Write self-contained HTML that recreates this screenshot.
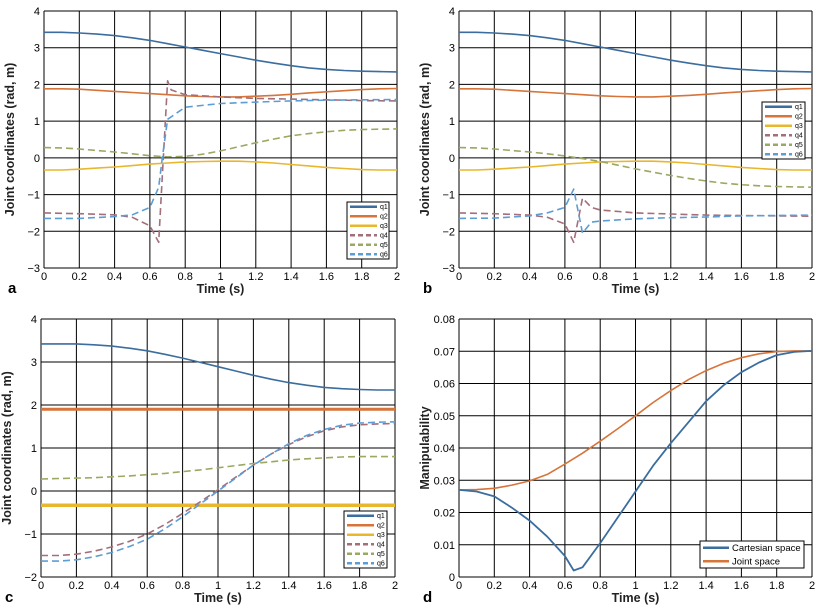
<!DOCTYPE html>
<html><head><meta charset="utf-8"><style>
body{margin:0;background:#fff;width:818px;height:606px;overflow:hidden}
svg text{font-family:"Liberation Sans",sans-serif}
</style></head><body>
<svg id="fig" width="818" height="606" xmlns="http://www.w3.org/2000/svg"></svg>
<script>
// ---- data ----
const tGrid = [0,0.1,0.2,0.3,0.4,0.5,0.6,0.7,0.8,0.9,1,1.1,1.2,1.3,1.4,1.5,1.6,1.7,1.8,1.9,2];
const q1 = [3.42,3.42,3.40,3.37,3.33,3.27,3.20,3.11,3.02,2.93,2.84,2.75,2.66,2.58,2.51,2.45,2.41,2.38,2.36,2.35,2.34];
const q2 = [1.88,1.88,1.87,1.84,1.81,1.78,1.75,1.72,1.69,1.67,1.66,1.66,1.68,1.70,1.73,1.77,1.80,1.83,1.86,1.88,1.89];
const q3 = [-0.33,-0.33,-0.31,-0.28,-0.25,-0.21,-0.17,-0.14,-0.11,-0.10,-0.09,-0.09,-0.11,-0.14,-0.18,-0.22,-0.26,-0.29,-0.32,-0.33,-0.33];
const q5a = [0.28,0.27,0.24,0.20,0.16,0.11,0.06,0.03,0.04,0.10,0.19,0.30,0.41,0.51,0.60,0.66,0.71,0.75,0.77,0.78,0.79];
const tq4a = [0,0.2,0.4,0.5,0.6,0.65,0.67,0.7,0.72,0.8,1.0,1.2,1.4,1.6,1.8,2];
const q4a = [-1.5,-1.52,-1.55,-1.62,-1.85,-2.3,-0.5,2.1,1.85,1.72,1.66,1.62,1.60,1.58,1.56,1.55];
const tq6a = [0,0.2,0.4,0.5,0.6,0.65,0.67,0.7,0.8,1.0,1.2,1.4,1.6,1.8,2];
const q6a = [-1.65,-1.65,-1.6,-1.55,-1.35,-0.8,0,1.05,1.38,1.48,1.52,1.55,1.57,1.58,1.59];
const q5b = [0.28,0.27,0.24,0.20,0.16,0.11,0.05,-0.02,-0.1,-0.2,-0.3,-0.39,-0.48,-0.56,-0.63,-0.69,-0.73,-0.76,-0.78,-0.79,-0.8];
const tq4b = [0,0.2,0.4,0.5,0.6,0.65,0.7,0.75,0.8,1,1.2,1.4,1.6,1.8,2];
const q4b = [-1.5,-1.52,-1.56,-1.62,-1.8,-2.3,-1.1,-1.35,-1.42,-1.5,-1.53,-1.56,-1.57,-1.58,-1.59];
const tq6b = [0,0.2,0.4,0.5,0.6,0.65,0.7,0.75,0.8,1,1.2,1.4,1.6,1.8,2];
const q6b = [-1.65,-1.64,-1.58,-1.5,-1.35,-0.85,-2.05,-1.75,-1.72,-1.66,-1.63,-1.61,-1.58,-1.57,-1.56];
const q1c = [3.42,3.42,3.42,3.40,3.37,3.32,3.26,3.18,3.09,2.99,2.89,2.79,2.69,2.60,2.52,2.46,2.41,2.38,2.36,2.35,2.35];
const q2c = [1.9,1.9];
const q3c = [-0.33,-0.33];
const tEnds = [0,2];
const q4c = [-1.5,-1.5,-1.47,-1.40,-1.30,-1.17,-1.0,-0.78,-0.52,-0.25,0.03,0.32,0.60,0.86,1.08,1.26,1.40,1.49,1.54,1.56,1.57];
const q5c = [0.28,0.29,0.30,0.31,0.33,0.35,0.38,0.41,0.45,0.49,0.54,0.59,0.64,0.68,0.72,0.75,0.77,0.79,0.80,0.80,0.80];
const q6c = [-1.63,-1.63,-1.6,-1.53,-1.43,-1.29,-1.12,-0.88,-0.6,-0.3,0.0,0.3,0.6,0.86,1.1,1.29,1.43,1.53,1.58,1.6,1.61];
const jointSpace = [0.027,0.0271,0.0275,0.0285,0.0298,0.0318,0.035,0.0384,0.0421,0.046,0.050,0.0541,0.0578,0.0612,0.064,0.0663,0.068,0.0692,0.0699,0.0701,0.0701];
const tCart = [0,0.1,0.2,0.3,0.4,0.5,0.6,0.65,0.7,0.8,0.9,1,1.1,1.2,1.3,1.4,1.5,1.6,1.7,1.8,1.9,2];
const cartSpace = [0.027,0.0265,0.025,0.0215,0.0175,0.0125,0.0065,0.002,0.003,0.0105,0.0185,0.0265,0.0345,0.0415,0.048,0.0545,0.0595,0.0635,0.0665,0.0688,0.0698,0.0701];
const xTicks = [0,0.2,0.4,0.6,0.8,1,1.2,1.4,1.6,1.8,2];
const xTickLabels = ["0","0.2","0.4","0.6","0.8","1","1.2","1.4","1.6","1.8","2"];
const yTicksAB = [-3,-2,-1,0,1,2,3,4];
const yTicksC = [-2,-1,0,1,2,3,4];
const yTicksD = [0,0.01,0.02,0.03,0.04,0.05,0.06,0.07,0.08];
const yLabelsD = ["0","0.01","0.02","0.03","0.04","0.05","0.06","0.07","0.08"];
const qNames = ["q1","q2","q3","q4","q5","q6"];

const C = {q1:"#3b6d9f",q2:"#d6743a",q3:"#e9b72e",q4:"#a26f7b",q5:"#9aa862",q6:"#5d9dd5"};
const NS="http://www.w3.org/2000/svg";
const svg=document.getElementById('fig');
function mk(tag,attrs,parent){const e=document.createElementNS(NS,tag);for(const k in attrs)e.setAttribute(k,attrs[k]);(parent||svg).appendChild(e);return e;}

function panel(id,L,R,T,B,ymin,ymax,yTicks,yLabels,yTitle,letter){
  const g=mk('g',{});
  
  
  const sx=v=>L+(v-0)/2*(R-L);
  const sy=v=>B-(v-ymin)/(ymax-ymin)*(B-T);
  xTicks.forEach((v,i)=>{
    const l=mk('line',{x1:sx(v),x2:sx(v),y1:T,y2:B,stroke:'#000','stroke-width':1},g);
    
    
    const t=mk('text',{x:sx(v),y:B+12,'font-size':11,'text-anchor':'middle'},g);
    t.textContent=xTickLabels[i];
    
    
  });
  yTicks.forEach((v,i)=>{
    const l=mk('line',{x1:L,x2:R,y1:sy(v),y2:sy(v),stroke:'#000','stroke-width':1},g);
    
    
    const t=mk('text',{x:L-4,y:sy(v)+4,'font-size':11,'text-anchor':'end'},g);
    t.textContent=yLabels[i];
    
    
  });
  const xt=mk('text',{x:(L+R)/2,y:B+25,'font-size':12.5,'font-weight':'bold','text-anchor':'middle','fill':'#222'},g);
  xt.textContent='Time (s)';
  
  
  const yx=L-30, yy=(T+B)/2;
  const yt=mk('text',{x:yx,y:yy,'font-size':12.5,'font-weight':'bold','text-anchor':'middle','fill':'#222',transform:`rotate(-90 ${yx} ${yy})`},g);
  yt.textContent=yTitle;
  
  
  const lt=mk('text',{x:L-36,y:B+25,'font-size':15,'font-weight':'bold'},g);
  lt.textContent=letter;
  
  
  return {g,sx,sy};
}
function line(p,ts,vs,color,dashed,w,name){
  const pts=ts.map((t,i)=>p.sx(t).toFixed(1)+','+p.sy(vs[i]).toFixed(1)).join(' ');
  const e=mk('polyline',{points:pts,fill:'none',stroke:color,'stroke-width':w||1.6,'stroke-dasharray':dashed?'7,4':'none','stroke-linejoin':'round'},p.g);
  
  
}
function legend(p,x,y,w,h,names,colors,dashes,fs,lineLen){
  const lg=mk('g',{},p.g);
  
  
  mk('rect',{x,y,width:w,height:h,fill:'#fff',stroke:'#000','stroke-width':1},lg);
  const step=h/names.length;
  names.forEach((n,i)=>{
    const cy=y+step*(i+0.5);
    const ent=mk('g',{},lg);
    
    
    mk('line',{x1:x+3,x2:x+3+lineLen,y1:cy,y2:cy,stroke:colors[i],'stroke-width':2.5,'stroke-dasharray':dashes[i]?'5,3':'none'},ent);
    const t=mk('text',{x:x+6+lineLen,y:cy+fs*0.35,'font-size':fs},ent);
    t.textContent=n;
  });
}
const qCols=[C.q1,C.q2,C.q3,C.q4,C.q5,C.q6], qDash=[0,0,0,1,1,1];
const YT='Joint coordinates (rad, m)';

// Panel a
let pa=panel('a',44,397,11,268,-3,4,yTicksAB,yTicksAB.map(v=>v<0?'\u2212'+(-v):''+v),YT,'a');
line(pa,tGrid,q1,C.q1,0,1.6,'q1-line');
line(pa,tGrid,q2,C.q2,0,1.6,'q2-line');
line(pa,tGrid,q3,C.q3,0,1.6,'q3-line');
line(pa,tq4a,q4a,C.q4,1,1.6,'q4-line');
line(pa,tGrid,q5a,C.q5,1,1.6,'q5-line');
line(pa,tq6a,q6a,C.q6,1,1.6,'q6-line');
legend(pa,347,202,42,57,qNames,qCols,qDash,7,27);

// Panel b
let pb=panel('b',459,812,11,268,-3,4,yTicksAB,yTicksAB.map(v=>v<0?'\u2212'+(-v):''+v),YT,'b');
line(pb,tGrid,q1,C.q1,0,1.6,'q1-line');
line(pb,tGrid,q2,C.q2,0,1.6,'q2-line');
line(pb,tGrid,q3,C.q3,0,1.6,'q3-line');
line(pb,tq4b,q4b,C.q4,1,1.6,'q4-line');
line(pb,tGrid,q5b,C.q5,1,1.6,'q5-line');
line(pb,tq6b,q6b,C.q6,1,1.6,'q6-line');
legend(pb,762,102,43,57,qNames,qCols,qDash,7,27);

// Panel c
let pc=panel('c',41,395,319,577,-2,4,yTicksC,yTicksC.map(v=>v<0?'\u2212'+(-v):''+v),YT,'c');
line(pc,tGrid,q1c,C.q1,0,1.6,'q1-line');
line(pc,tEnds,q2c,C.q2,0,3,'q2-line');
line(pc,tEnds,q3c,C.q3,0,3.5,'q3-line');
line(pc,tGrid,q4c,C.q4,1,1.6,'q4-line');
line(pc,tGrid,q5c,C.q5,1,1.6,'q5-line');
line(pc,tGrid,q6c,C.q6,1,1.6,'q6-line');
legend(pc,344,511,43,57,qNames,qCols,qDash,7,27);

// Panel d
let pd=panel('d',459,812,319,577,0,0.08,yTicksD,yLabelsD,'Manipulability','d');
line(pd,tGrid,jointSpace,C.q2,0,1.6,'joint-space-line');
line(pd,tCart,cartSpace,C.q1,0,1.8,'cartesian-space-line');
legend(pd,700,541,104,27,['Cartesian space','Joint space'],[C.q1,C.q2],[0,0],9.5,26);
</script>
</body></html>
